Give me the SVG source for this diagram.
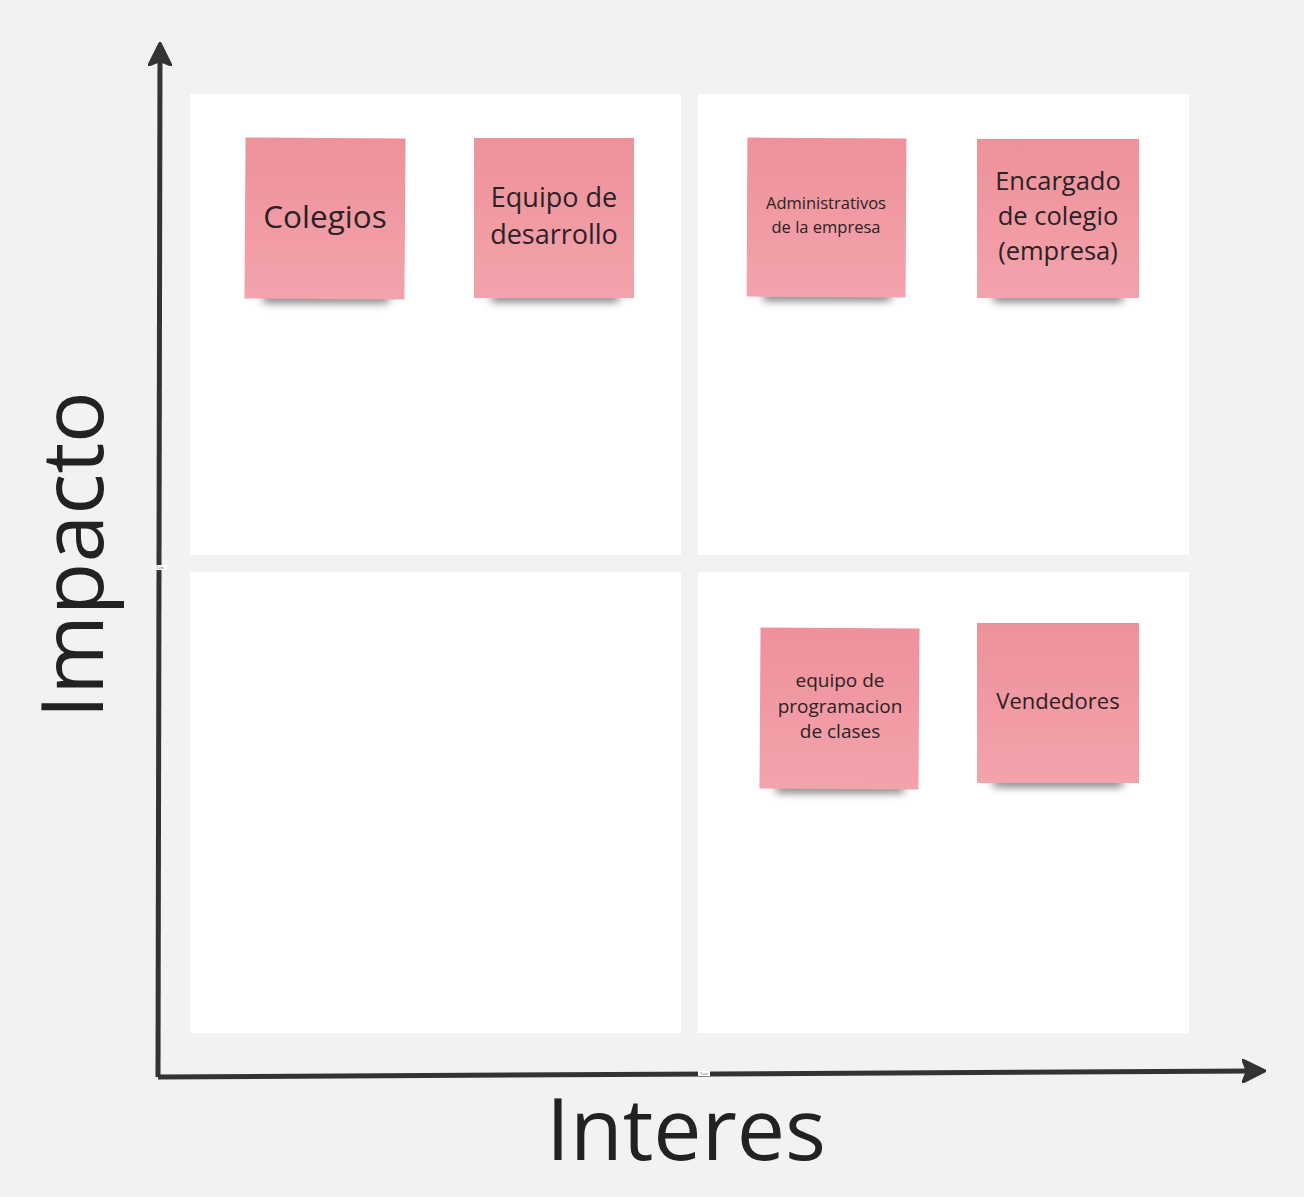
<svg xmlns="http://www.w3.org/2000/svg" width="1304" height="1197" viewBox="0 0 1304 1197">
<defs>
<linearGradient id="stk" x1="0" y1="0" x2="0" y2="1">
<stop offset="0" stop-color="#ee919b"/>
<stop offset="1" stop-color="#f3a3ac"/>
</linearGradient>
<filter id="sh" x="-20%" y="-100%" width="140%" height="300%">
<feGaussianBlur stdDeviation="4"/>
</filter>
<marker id="ah" viewBox="0 0 10 10" refX="5" refY="5" markerWidth="4.8" markerHeight="4.8" orient="auto" markerUnits="strokeWidth">
<path d="M0,0 L10,5 L0,10 L2,5 Z" fill="#333333" stroke="#333333" stroke-width="0.8" stroke-linejoin="round"/>
</marker>
</defs>
<style>
.quad{fill:#ffffff}
.note{fill:url(#stk)}
.shadow{fill:#000000;opacity:0.5;filter:url(#sh)}
.nt{font-family:"Open Sans","Noto Sans",sans-serif;fill:#2a2224;text-anchor:middle}
.axis{stroke:#333333;stroke-width:5;fill:none}
.big{font-family:"Open Sans","Noto Sans",sans-serif;fill:#222222;font-size:86px;text-anchor:middle}
.tiny{font-family:"Open Sans",sans-serif;font-size:4px;fill:#555555;text-anchor:middle}
</style>
<rect width="1304" height="1197" fill="#f2f2f2"/>
<g id="quadrants">
<rect class="quad" x="190" y="94" width="491" height="461"/>
<rect class="quad" x="698" y="94" width="491" height="461"/>
<rect class="quad" x="190" y="572" width="491" height="461"/>
<rect class="quad" x="698" y="572" width="491" height="461"/>
</g>
<g id="connectors">
<path class="axis" d="M158,1077 L160,54" marker-end="url(#ah)"/>
<path class="axis" d="M158,1077 L1254,1071" marker-end="url(#ah)"/>
<rect x="154" y="565" width="12" height="5" fill="#ffffff"/>
<text class="tiny" x="160" y="569">Text</text>
<rect x="698" y="1071" width="12" height="5" fill="#ffffff"/>
<text class="tiny" x="704" y="1075">Text</text>
</g>
<g id="label-impacto">
<text class="big" transform="translate(103,555) rotate(-90)">Impacto</text>
</g>
<g id="label-interes">
<text class="big" x="686" y="1160">Interes</text>
</g>
<g id="note-colegios">
<rect class="shadow" x="262" y="293" width="128" height="10" rx="5"/>
<rect class="note" x="245" y="138" width="160" height="161" transform="rotate(0.4 325 218)"/>
<text class="nt" x="325" y="228" font-size="31.5">Colegios</text>
</g>
<g id="note-equipo-desarrollo">
<rect class="shadow" x="490" y="292" width="130" height="10" rx="5"/>
<rect class="note" x="474" y="138" width="160" height="160"/>
<text class="nt" x="554" y="207" font-size="27">Equipo de</text>
<text class="nt" x="554" y="244" font-size="27">desarrollo</text>
</g>
<g id="note-administrativos">
<rect class="shadow" x="762" y="291" width="130" height="10" rx="5"/>
<rect class="note" x="747" y="138" width="159" height="159" transform="rotate(0.3 826 218)"/>
<text class="nt" x="826" y="209" font-size="16.5">Administrativos</text>
<text class="nt" x="826" y="233" font-size="16.5">de la empresa</text>
</g>
<g id="note-encargado">
<rect class="shadow" x="992" y="292" width="132" height="10" rx="5"/>
<rect class="note" x="977" y="139" width="162" height="159"/>
<text class="nt" x="1058" y="190" font-size="25.5">Encargado</text>
<text class="nt" x="1058" y="225" font-size="25.5">de colegio</text>
<text class="nt" x="1058" y="260" font-size="25.5">(empresa)</text>
</g>
<g id="note-equipo-programacion">
<rect class="shadow" x="775" y="783" width="130" height="10" rx="5"/>
<rect class="note" x="760" y="628" width="159" height="161" transform="rotate(0.4 840 708)"/>
<text class="nt" x="840" y="687" font-size="19">equipo de</text>
<text class="nt" x="840" y="713" font-size="19">programacion</text>
<text class="nt" x="840" y="738" font-size="19">de clases</text>
</g>
<g id="note-vendedores">
<rect class="shadow" x="992" y="777" width="132" height="10" rx="5"/>
<rect class="note" x="977" y="623" width="162" height="160"/>
<text class="nt" x="1058" y="709" font-size="22">Vendedores</text>
</g>
</svg>
